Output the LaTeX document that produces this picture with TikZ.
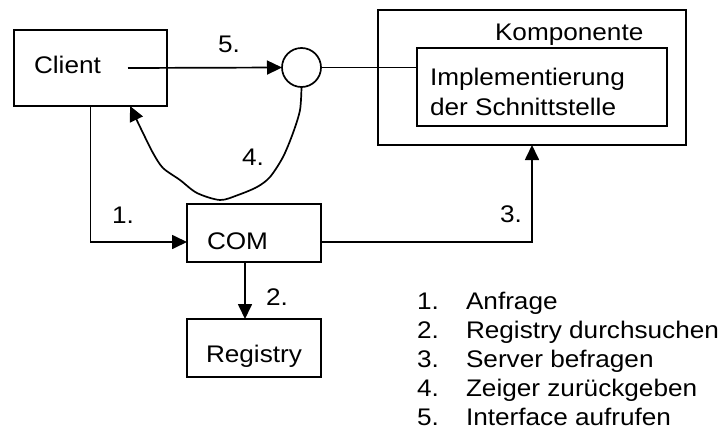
\documentclass[tikz,border=0pt]{standalone}
\usepackage{fontspec}
\setmainfont{Liberation Sans}[FakeStretch=1.09]
\usetikzlibrary{arrows.meta}
\begin{document}
\begin{tikzpicture}[x=1pt,y=-1pt, line width=1.7pt,
  box/.style={draw, rectangle, inner sep=0pt, outer sep=0pt},
  lbl/.style={anchor=base west, inner sep=0pt, outer sep=0pt, font=\fontsize{24}{24}\selectfont},
  tip/.style={-{Triangle[length=15pt,width=14pt]}}]
\useasboundingbox (0,0) rectangle (727,434);
% boxes
\node[box, minimum width=153pt, minimum height=76pt] (client) at (90.5,68) {};
\node[draw, circle, inner sep=0pt, outer sep=0pt, minimum size=39pt] (circ) at (301.5,67.5) {};
\node[box, minimum width=308pt, minimum height=135pt] (outer) at (532,77.5) {};
\node[box, minimum width=250pt, minimum height=78pt] (inner) at (542,87) {};
\node[box, minimum width=134pt, minimum height=58pt] (com) at (254,233) {};
\node[box, minimum width=134pt, minimum height=58pt] (reg) at (254,348) {};
% texts
\node[lbl] (tclient) at (34,73) {Client};
\node[lbl] (tkomp) at (495,40) {Komponente};
\node[lbl] (timpl) at (430,85) {Implementierung};
\node[lbl] (tder) at (430,115) {der Schnittstelle};
\node[lbl] (tcom) at (207,249) {COM};
\node[lbl] (treg) at (206,362) {Registry};
\node[lbl] (t1) at (112,223) {1.};
\node[lbl] (t2) at (266,305) {2.};
\node[lbl] (t3) at (500,222) {3.};
\node[lbl] (t4) at (242,165) {4.};
\node[lbl] (t5) at (218,52) {5.};
% connectors
\coordinate (s5) at (128,68);
\coordinate (c4end) at (130,106);
\draw[tip] (s5) -- (circ.west);
\draw (circ.east) -- (circ.east -| inner.west);
\draw[tip] (client.south) |- ([yshift=-9pt]com.west);
\draw[tip] ([xshift=-9pt]com.south) -- ([xshift=-9pt]reg.north);
\draw[tip] ([yshift=-9pt]com.east) -| (outer.south);
\draw[tip] plot[smooth] coordinates {(circ.south) (300,110) (293,133) (283,157) (270,177) (257,187) (238,195) (220,200) (197,193) (180,180) (163,168) (153,153) (143,133) (c4end)};
% legend
\foreach \n/\t [count=\k from 0] in {1./Anfrage, 2./Registry durchsuchen, 3./Server befragen, 4./Zeiger zurückgeben, 5./Interface aufrufen}{
  \node[lbl] (ln\k) at (417,309+29*\k) {\n};
  \node[lbl] (lt\k) at (466,309+29*\k) {\t};
}
\end{tikzpicture}
\end{document}
